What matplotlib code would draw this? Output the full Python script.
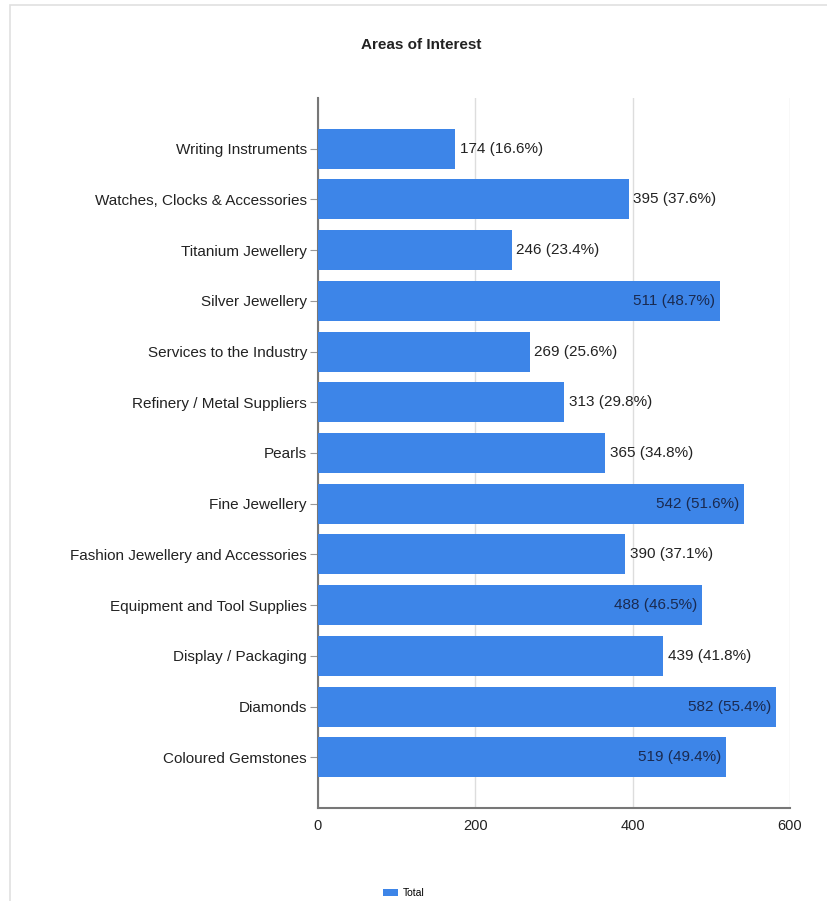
import matplotlib.pyplot as plt
from matplotlib.patches import Rectangle

plt.rcParams['font.family'] = ['Liberation Sans', 'DejaVu Sans']

categories = ['Writing Instruments', 'Watches, Clocks & Accessories', 'Titanium Jewellery',
              'Silver Jewellery', 'Services to the Industry', 'Refinery / Metal Suppliers',
              'Pearls', 'Fine Jewellery', 'Fashion Jewellery and Accessories',
              'Equipment and Tool Supplies', 'Display / Packaging', 'Diamonds',
              'Coloured Gemstones']
totals = [174, 395, 246, 511, 269, 313, 365, 542, 390, 488, 439, 582, 519]
percents = [16.6, 37.6, 23.4, 48.7, 25.6, 29.8, 34.8, 51.6, 37.1, 46.5, 41.8, 55.4, 49.4]

fig = plt.figure(figsize=(8.27, 9.01), dpi=100)
# light frame around the chart area
fig.patches.append(Rectangle((10 / 827, -0.01), 1.0, (901 - 5) / 901 + 0.01,
                             transform=fig.transFigure, fill=False,
                             edgecolor='#e0e0e0', linewidth=1.2))

ax = fig.add_axes([318 / 827, 1 - 808 / 901, 472 / 827, 710 / 901])
y = range(len(categories))
bars = ax.barh(y, totals, height=0.79, color='#3d85e8', zorder=3, label='Total')
ax.set_ylim(len(categories), -1)
ax.set_xlim(0, 600)
ax.set_xticks([0, 200, 400, 600])
ax.set_yticks(list(y))
ax.set_yticklabels(categories, fontsize=11, color='#222222')
ax.tick_params(axis='x', length=0, labelsize=10.5, pad=8, colors='#222222')
ax.tick_params(axis='y', length=6, color='#999999', pad=2)
ax.grid(axis='x', color='#dddddd', linewidth=1, zorder=0)
for side in ['top', 'right']:
    ax.spines[side].set_visible(False)
ax.spines['left'].set_color('#777777')
ax.spines['bottom'].set_color('#777777')
ax.spines['left'].set_linewidth(1.5)
ax.spines['bottom'].set_linewidth(1.5)

for i, (v, p) in enumerate(zip(totals, percents)):
    txt = f'{v} ({p}%)'
    if v > 480:
        ax.text(v - 6, i, txt, ha='right', va='center', fontsize=11, color='#1a2a50', zorder=4)
    else:
        ax.text(v + 6, i, txt, ha='left', va='center', fontsize=11, color='#222222', zorder=4)

fig.text(421 / 827, 1 - 45 / 901, 'Areas of Interest', ha='center', va='center',
         fontsize=11, fontweight='bold', color='#222222')

fig.legend(handles=[bars], labels=['Total'], loc='center', bbox_to_anchor=(404 / 827, 1 - 893 / 901),
           frameon=False, fontsize=7.5, handlelength=1.4, handleheight=0.7, handletextpad=0.5)

fig.savefig('out.png', dpi=100)
